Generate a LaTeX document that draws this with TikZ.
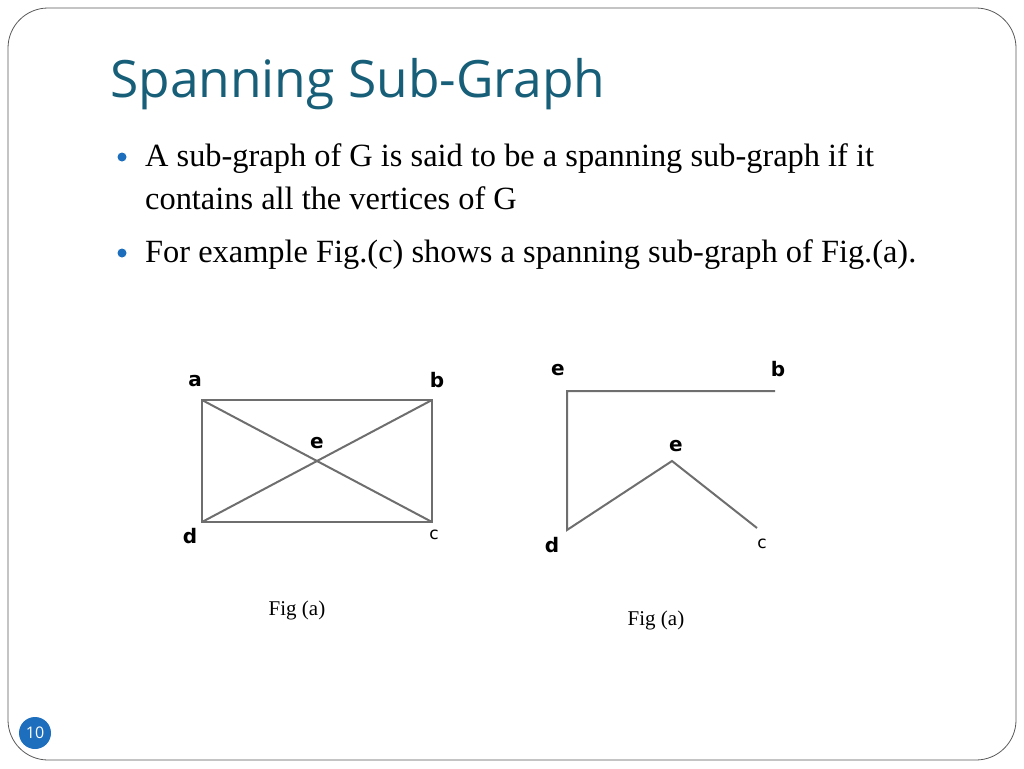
\documentclass[tikz,border=0pt]{standalone}
\usepackage{fontspec}
\setmainfont{Liberation Serif}
\newfontfamily\titlefont{Open Sans}
\newfontfamily\lblfont{DejaVu Sans}
\definecolor{titlecol}{RGB}{23,94,120}
\definecolor{bulletcol}{RGB}{30,110,190}
\definecolor{edgecol}{RGB}{110,110,110}
\begin{document}
\begin{tikzpicture}[x=1pt,y=-1pt,
  edge/.style={draw=edgecol,line width=2pt},
  lbl/.style={font=\lblfont\bfseries\fontsize{20}{20}\selectfont,inner sep=0pt},
  body/.style={anchor=base west,font=\fontsize{32.4}{34}\selectfont,inner sep=0pt},
  bul/.style={circle,fill=bulletcol,inner sep=0pt,minimum size=9pt}]
\useasboundingbox (0,0) rectangle (1024,768);
\draw[line width=0.8pt,color=gray!70!black,rounded corners=40pt] (8,8) rectangle (1016,760);
\node[anchor=base west,inner sep=0pt,text=titlecol,font=\titlefont\fontsize{51.5}{54}\selectfont] (title) at (110,97) {Spanning Sub-Graph};
\node[bul] (b1) at (122,157) {};
\node[body] (t1) at (145,166) {A sub-graph of G is said to be a spanning sub-graph if it};
\node[body] (t2) at (145,209) {contains all the vertices of G};
\node[bul] (b2) at (122,253) {};
\node[body] (t3) at (145,262) {For example Fig.(c) shows a spanning sub-graph of Fig.(a).};
% left figure
\coordinate (A) at (202,400); \coordinate (B) at (432,400);
\coordinate (D) at (202,522); \coordinate (C) at (432,522);
\draw[edge] (A) -- (B) -- (C) -- (D) -- cycle;
\draw[edge] (A) -- (C); \draw[edge] (B) -- (D);
\node[lbl] (la) at (195,381) {a};
\node[lbl] (lb) at (437,380) {b};
\node[lbl] (le) at (317,443) {e};
\node[lbl] (ld) at (190,536) {d};
\node[lbl,font=\lblfont\fontsize{17}{17}\selectfont] (lc) at (434,535) {c};
% right figure
\coordinate (A2) at (567,391); \coordinate (B2) at (775,391);
\coordinate (D2) at (567,530); \coordinate (E2) at (672,461); \coordinate (C2) at (757,528);
\draw[edge] (B2) -- (A2) -- (D2) -- (E2) -- (C2);
\node[lbl] (ra) at (558,370) {e};
\node[lbl] (rb) at (778,369) {b};
\node[lbl] (re) at (676,446) {e};
\node[lbl] (rd) at (552,545) {d};
\node[lbl,font=\lblfont\fontsize{17}{17}\selectfont] (rc) at (762,544) {c};
\node[font=\fontsize{21}{22}\selectfont] (cap1) at (297,610) {Fig (a)};
\node[font=\fontsize{21}{22}\selectfont] (cap2) at (656,620) {Fig (a)};
\node[circle,fill=bulletcol,minimum size=32pt,inner sep=0pt,text=white,font=\titlefont\fontsize{16}{16}\selectfont] (pg) at (35,733) {10};
\end{tikzpicture}
\end{document}
